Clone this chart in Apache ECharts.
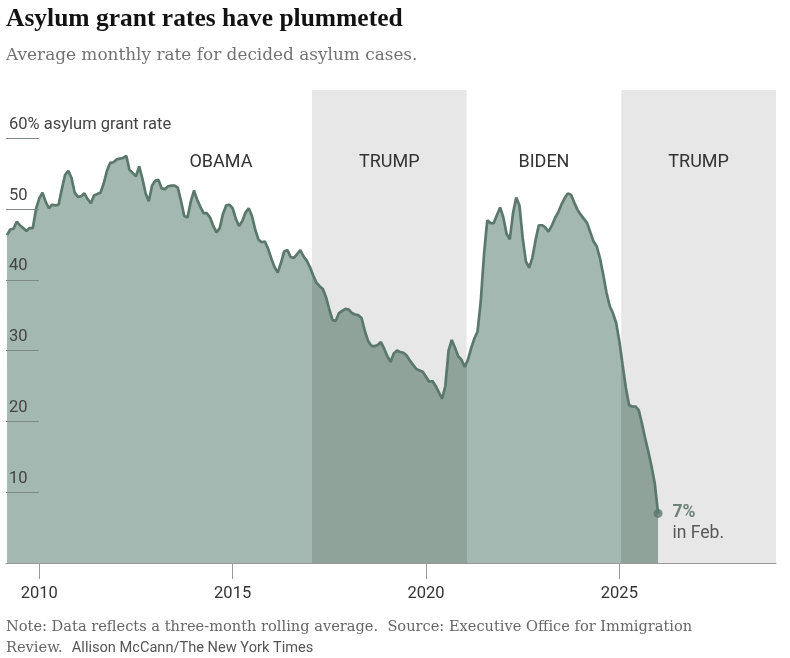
<!DOCTYPE html>
<html lang="en">
  <head>
    <meta charset="UTF-8" />
    <title>Asylum grant rates</title>
    <style>
      html, body { margin: 0; padding: 0; background: #fff; }
      #main { width: 790px; height: 658px; }
    </style>
  </head>
  <body>
    <div id="main"></div>
  </body>
  <script src="https://cdn.jsdelivr.net/npm/echarts@6/dist/echarts.min.js"></script>
  <script>
    /* globals echarts */

    // average monthly grant rate (%), three-month rolling average, last value = Feb 2026
    var rates = [
      46.3, 47.1, 47.2, 48.2, 47.7, 47.3, 46.9, 47.3, 47.3, 50.0, 51.5, 52.3,
      51.0, 50.1, 50.6, 50.5, 50.6, 52.8, 54.8, 55.4, 54.4, 52.3, 51.7, 51.8,
      52.2, 51.4, 50.8, 51.9, 52.1, 52.3, 53.6, 55.4, 56.5, 56.6, 57.0, 57.1,
      57.2, 57.5, 55.5, 55.1, 54.6, 56.0, 54.3, 52.2, 51.1, 53.3, 54.0, 54.1,
      52.9, 52.8, 53.2, 53.3, 53.3, 53.0, 51.1, 49.0, 48.8, 51.0, 52.6, 51.3,
      50.3, 49.4, 49.4, 48.8, 47.6, 46.7, 47.3, 49.3, 50.5, 50.6, 50.1, 48.6,
      47.6, 48.3, 49.5, 50.1, 49.0, 47.1, 45.7, 45.3, 45.4, 44.4, 43.0, 41.8,
      41.0, 42.4, 44.0, 44.2, 43.2, 43.1, 43.6, 44.2, 43.3, 42.7, 41.8, 40.6,
      39.6, 39.1, 38.7, 37.5, 35.8, 34.3, 34.2, 35.3, 35.6, 35.9, 35.8, 35.3,
      35.1, 35.0, 34.6, 32.8, 31.4, 30.7, 30.6, 30.8, 31.2, 30.3, 29.2, 28.4,
      29.6, 30.0, 29.8, 29.7, 29.3, 28.6, 28.0, 27.4, 27.2, 27.0, 26.3, 25.6,
      25.7, 25.0, 24.1, 23.2, 25.0, 30.0, 31.5, 30.4, 29.2, 28.7, 27.7, 28.7,
      30.3, 31.7, 32.7, 37.0, 43.6, 48.4, 48.0, 48.0, 49.1, 50.2, 48.8, 46.5,
      45.7, 49.4, 51.6, 50.5, 45.9, 42.6, 41.7, 43.1, 45.6, 47.7, 47.7, 47.4,
      46.8, 47.6, 48.7, 49.5, 50.6, 51.5, 52.2, 52.0, 50.9, 49.9, 49.2, 48.6,
      48.0, 46.7, 45.4, 44.7, 43.0, 40.7, 38.2, 36.3, 35.3, 33.9, 31.3, 28.0,
      24.8, 22.3, 22.1, 22.1, 21.6, 19.7, 17.6, 15.7, 13.6, 11.2, 7.0
    ];
    // each value sits at the middle month of its window
    var firstX = 2009 + 2 / 12;

    var terms = ["OBAMA", "TRUMP", "BIDEN", "TRUMP"];
    var termStart = [2009.14, 2017.05, 2021.05, 2025.05];
    var termEnd = [2017.05, 2021.05, 2025.05, 2029.05];
    var termShaded = [false, true, false, true];

    var yearTicks = [2010, 2015, 2020, 2025];
    var rateTicks = [10, 20, 30, 40, 50, 60];

    var LIGHT = "#a3b8b0";
    var DARK = "#8fa39a";
    var LINE = "#5a786c";
    var BAND = "#e7e7e7";
    var SANS = "Roboto";

    var points = rates.map(function(v, i) {
      return [firstX + i / 12, v];
    });
    var last = points[points.length - 1];

    var pieces = terms.map(function(t, i) {
      return { min: termStart[i] - (i === 0 ? 10 : 0), max: termEnd[i], color: termShaded[i] ? DARK : LIGHT };
    });

    var bands = terms.map(function(t, i) {
      return [
        {
          xAxis: termStart[i],
          name: t,
          itemStyle: { color: termShaded[i] ? BAND : "rgba(0,0,0,0)" },
          label: { offset: i === 0 ? [62, 0] : [0, 0] }
        },
        { xAxis: termEnd[i] }
      ];
    });

    var chart = echarts.init(document.getElementById("main"));

    var option = {
      animation: false,
      title: [
        {
          text: "Asylum grant rates have plummeted",
          left: 6,
          top: 6,
          padding: 0,
          textStyle: { fontFamily: "Liberation Serif", fontWeight: "bold", fontSize: 25.5, color: "#121212" }
        },
        {
          text: "Average monthly rate for decided asylum cases.",
          left: 6,
          top: 47,
          padding: 0,
          textStyle: { fontFamily: "DejaVu Serif", fontWeight: "normal", fontSize: 16.9, color: "#727272" }
        },
        {
          text:
            "Note: Data reflects a three-month rolling average.  Source: Executive Office for Immigration\n" +
            "{r|Review.}  {s|Allison McCann/The New York Times}",
          left: 6,
          top: 617,
          padding: 0,
          textStyle: {
            fontFamily: "DejaVu Serif",
            fontWeight: "normal",
            fontSize: 14.6,
            lineHeight: 21,
            color: "#666",
            rich: {
              r: { fontFamily: "DejaVu Serif", fontSize: 14.6, color: "#666", lineHeight: 21 },
              s: { fontFamily: SANS, fontSize: 14.6, color: "#555", lineHeight: 21 }
            }
          }
        }
      ],
      grid: { left: 6, right: 14, top: 90, bottom: 95, outerBoundsMode: "none" },
      visualMap: {
        type: "piecewise",
        show: false,
        dimension: 0,
        seriesIndex: 0,
        pieces: pieces
      },
      xAxis: {
        type: "value",
        min: 2009.14,
        max: 2029.05,
        z: 10,
        axisLine: { show: true, onZero: false, lineStyle: { color: "#999", width: 1 } },
        axisTick: { show: true, length: 16, customValues: yearTicks, lineStyle: { color: "#999" } },
        axisLabel: {
          customValues: yearTicks,
          margin: 22,
          fontFamily: SANS,
          fontSize: 16.5,
          color: "#333",
          formatter: function(v) {
            return String(v);
          }
        },
        splitLine: { show: false }
      },
      yAxis: {
        type: "value",
        min: 0,
        max: 66.8,
        z: 10,
        axisLine: { show: false },
        splitLine: { show: false },
        axisTick: {
          show: true,
          inside: true,
          length: 33,
          customValues: rateTicks,
          lineStyle: { color: "#7d8a84", width: 1 }
        },
        axisLabel: {
          inside: true,
          customValues: rateTicks,
          margin: 3,
          verticalAlign: "bottom",
          padding: [0, 0, 5, 0],
          fontFamily: SANS,
          fontSize: 16.5,
          color: "#444",
          formatter: function(v) {
            return v === 60 ? "60% asylum grant rate" : String(v);
          }
        }
      },
      series: [
        {
          type: "line",
          data: points,
          symbol: "none",
          z: 2,
          lineStyle: { width: 0 },
          areaStyle: { opacity: 1 },
          markArea: {
            silent: true,
            z: 1,
            label: {
              show: true,
              position: "insideTop",
              distance: 63,
              fontFamily: SANS,
              fontSize: 18,
              color: "#333"
            },
            data: bands
          }
        },
        {
          type: "line",
          data: points,
          symbol: "none",
          z: 3,
          color: LINE,
          lineStyle: { color: LINE, width: 2.7 }
        },
        {
          type: "scatter",
          data: [last],
          z: 4,
          symbolSize: 9,
          itemStyle: { color: LINE },
          label: {
            show: true,
            position: "right",
            distance: 10,
            offset: [0, 10],
            formatter: "{a|" + Math.round(last[1]) + "%}\n{b|in Feb.}",
            rich: {
              a: { fontFamily: SANS, fontSize: 17.5, fontWeight: "bold", color: "#4f6a5c", lineHeight: 21 },
              b: { fontFamily: SANS, fontSize: 17.5, color: "#333", lineHeight: 21 }
            }
          }
        }
      ]
    };

    chart.setOption(option);
  </script>
</html>
